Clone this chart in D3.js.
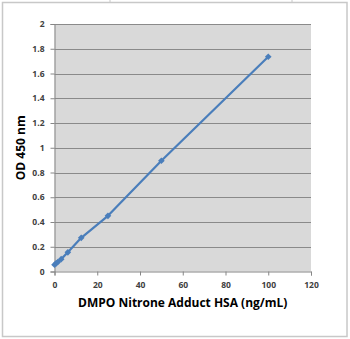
<!DOCTYPE html>
<html>
<head>
<meta charset="utf-8">
<script src="https://cdn.jsdelivr.net/npm/d3@7"></script>
<style>
  html, body { margin: 0; padding: 0; background: #fff; }
  svg { display: block; }
</style>
</head>
<body>
<svg id="chart" width="350" height="339"></svg>
<script>
// Standard curve: concentration (ng/mL) vs optical density at 450 nm
const concentrations = [0, 0.78, 1.56, 3.125, 6.25, 12.5, 25, 50, 100];
const odValues = [0.055, 0.066, 0.077, 0.10, 0.155, 0.272, 0.45, 0.895, 1.735];
const xTicks = [0, 20, 40, 60, 80, 100, 120];
const yTicks = [0, 0.2, 0.4, 0.6, 0.8, 1, 1.2, 1.4, 1.6, 1.8, 2];
const xTitle = "DMPO Nitrone Adduct HSA (ng/mL)";
const yTitle = "OD 450 nm";

const svg = d3.select("#chart");
const W = 350, H = 339;
const plot = { left: 54.5, right: 311, top: 24, bottom: 271.5 };

// outer chart frame
svg.append("rect")
  .attr("x", 2.5).attr("y", 2.5)
  .attr("width", W - 5.5).attr("height", H - 5)
  .attr("fill", "#fff")
  .attr("stroke", "#c8c8c8").attr("stroke-width", 1.5);
[110, 292].forEach(px => svg.append("line")
  .attr("x1", px).attr("x2", px).attr("y1", 0).attr("y2", 2)
  .attr("stroke", "#c8c8c8").attr("stroke-width", 1));

const x = d3.scaleLinear().domain([0, 120]).range([plot.left, plot.right]);
const y = d3.scaleLinear().domain([0, 2]).range([plot.bottom, plot.top]);

// plot area
svg.append("rect")
  .attr("x", plot.left).attr("y", plot.top)
  .attr("width", plot.right - plot.left).attr("height", plot.bottom - plot.top)
  .attr("fill", "#d9d9d9");

// horizontal gridlines
svg.append("g").selectAll("line")
  .data(yTicks.filter(t => t > 0))
  .join("line")
  .attr("x1", plot.left).attr("x2", plot.right)
  .attr("y1", d => Math.round(y(d)) + 0.5).attr("y2", d => Math.round(y(d)) + 0.5)
  .attr("stroke", "#8a8a8a").attr("stroke-width", 1);

const font = "'Open Sans', 'Liberation Sans', Arial, sans-serif";

// x axis
const xAxis = svg.append("g")
  .attr("transform", `translate(0,${plot.bottom})`)
  .call(d3.axisBottom(x).tickValues(xTicks).tickSize(4).tickPadding(6).tickFormat(d3.format("d")));
xAxis.select(".domain").attr("stroke", "#868686");
xAxis.selectAll(".tick line").attr("stroke", "#868686");
xAxis.selectAll(".tick text")
  .attr("font-family", font).attr("font-size", 8.5).attr("font-weight", "bold")
  .attr("fill", "#404040");

// y axis
const yAxis = svg.append("g")
  .attr("transform", `translate(${plot.left},0)`)
  .call(d3.axisLeft(y).tickValues(yTicks).tickSize(4).tickPadding(6).tickFormat(d => String(+d.toFixed(1))));
yAxis.select(".domain").attr("stroke", "#868686");
yAxis.selectAll(".tick line").attr("stroke", "#868686");
yAxis.selectAll(".tick text")
  .attr("font-family", font).attr("font-size", 8.5).attr("font-weight", "bold")
  .attr("fill", "#404040");

// axis titles
svg.append("text")
  .attr("x", (plot.left + plot.right) / 2).attr("y", 307)
  .attr("text-anchor", "middle")
  .attr("font-family", font).attr("font-size", 12).attr("font-weight", "bold")
  .attr("fill", "#000")
  .text(xTitle);
svg.append("text")
  .attr("transform", `translate(25,${(plot.top + plot.bottom) / 2}) rotate(-90)`)
  .attr("text-anchor", "middle")
  .attr("font-family", font).attr("font-size", 12).attr("font-weight", "bold")
  .attr("fill", "#000")
  .text(yTitle);

// series line and markers
const pts = concentrations.map((c, i) => [c, odValues[i]]);
svg.append("path")
  .datum(pts)
  .attr("fill", "none")
  .attr("stroke", "#4a7ebb").attr("stroke-width", 2.2)
  .attr("stroke-linejoin", "round")
  .attr("d", d3.line().x(d => x(d[0])).y(d => y(d[1])));

svg.append("g").selectAll("path")
  .data(pts)
  .join("path")
  .attr("transform", d => `translate(${x(d[0])},${y(d[1])}) rotate(45)`)
  .attr("d", d3.symbol(d3.symbolSquare, 22)())
  .attr("fill", "#4a7ebb");
</script>
</body>
</html>
